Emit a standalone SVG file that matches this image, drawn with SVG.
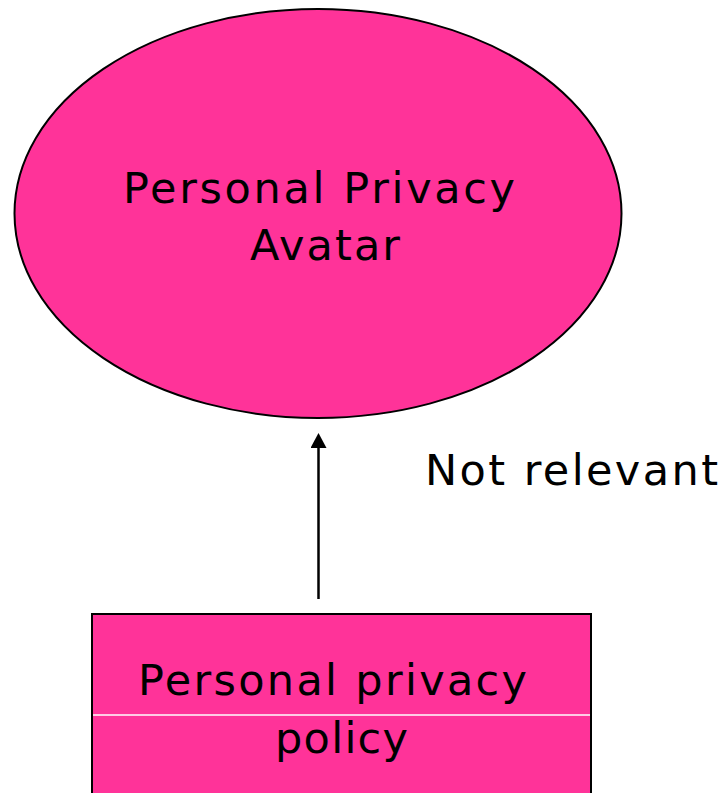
<svg xmlns="http://www.w3.org/2000/svg" width="725" height="793" viewBox="0 0 725 793">
<style>
.node{fill:#FF3399;stroke:#000;stroke-width:2}
.t{font-family:"DejaVu Sans","Verdana",sans-serif;font-size:43px;fill:#000}
</style>
<defs>
<marker id="ah" markerWidth="16" markerHeight="16" refX="0" refY="8" orient="auto" markerUnits="userSpaceOnUse" viewBox="0 0 16 16">
<path d="M0,0 L15,8 L0,16 Z" fill="#000"/>
</marker>
</defs>
<rect width="725" height="793" fill="#fff"/>
<g id="avatar">
<ellipse class="node" cx="318" cy="213.5" rx="303.5" ry="204.5"/>
<text class="t" x="123" y="203" textLength="392" lengthAdjust="spacing">Personal Privacy</text>
<text class="t" x="250" y="260" textLength="150" lengthAdjust="spacing">Avatar</text>
</g>
<g id="policy">
<rect class="node" x="92" y="614" width="499" height="190"/>
<line x1="93" y1="715" x2="590" y2="715" stroke="#fff" stroke-width="1.5"/>
<text class="t" x="138" y="695" textLength="389" lengthAdjust="spacing">Personal privacy</text>
<text class="t" x="275" y="753" textLength="133" lengthAdjust="spacing">policy</text>
</g>
<g id="connectors">
<line x1="318.5" y1="599" x2="318.5" y2="448" stroke="#000" stroke-width="2.5" marker-end="url(#ah)"/>
</g>
<g id="label">
<text class="t" x="425" y="485" textLength="293" lengthAdjust="spacing">Not relevant</text>
</g>
</svg>
